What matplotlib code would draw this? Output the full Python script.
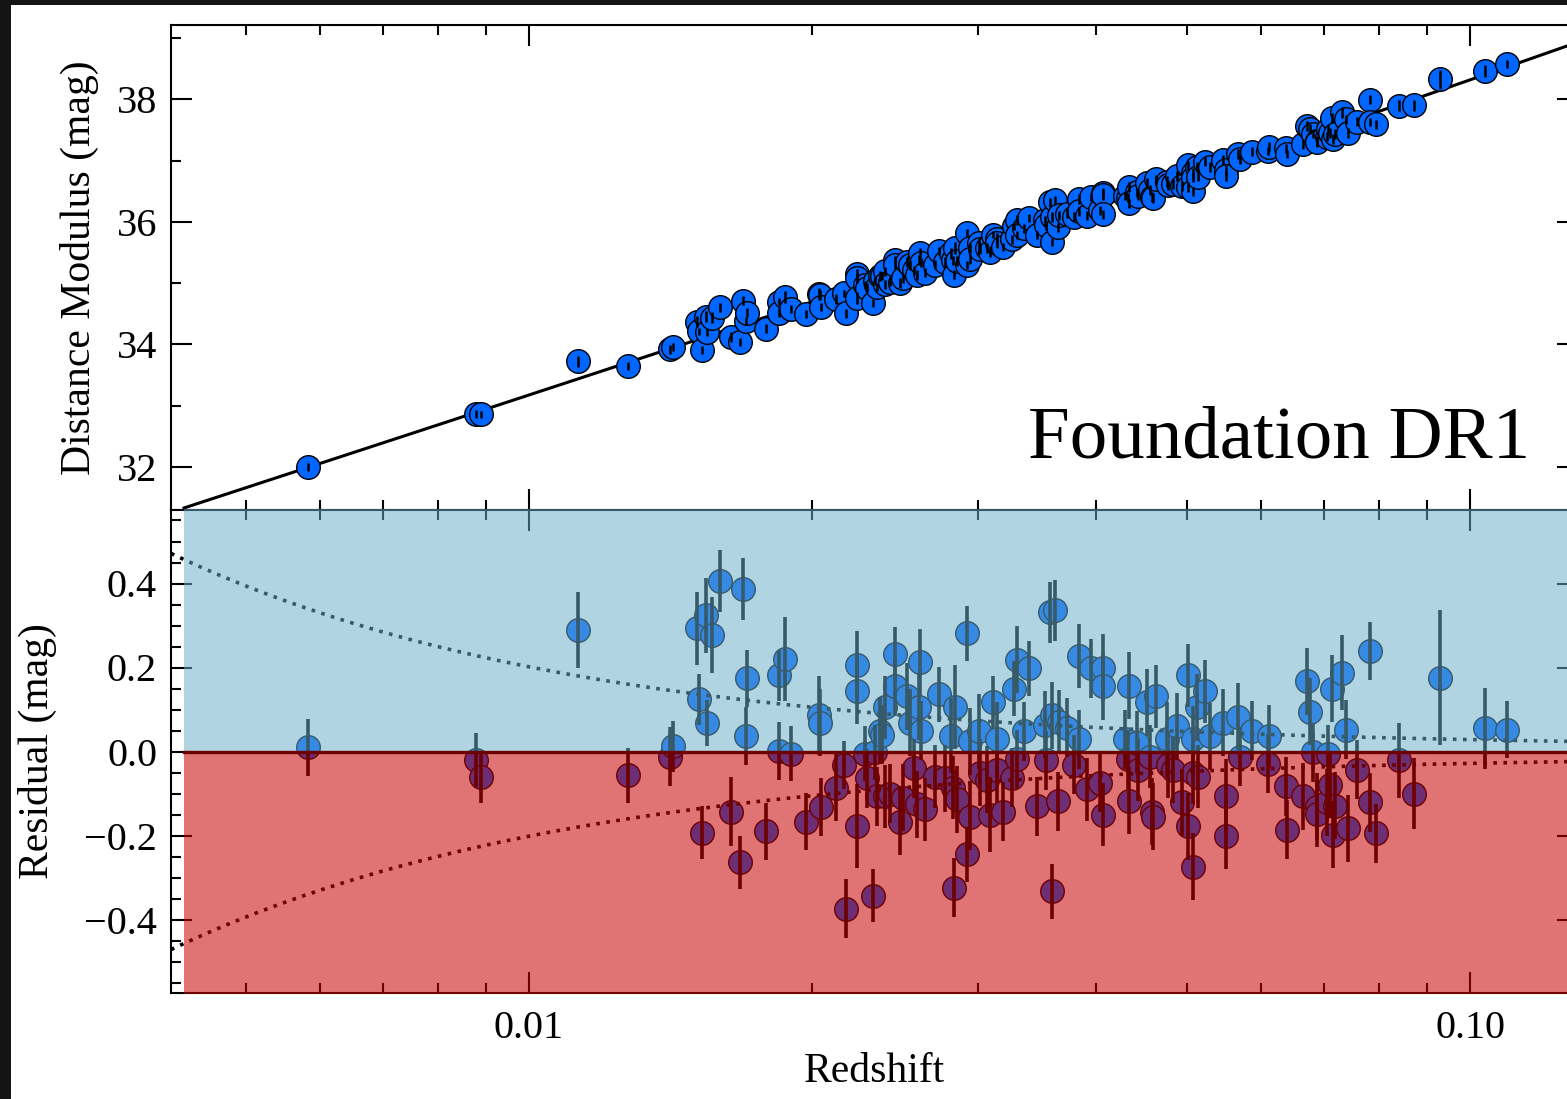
import numpy as np
import matplotlib
matplotlib.use("Agg")
import matplotlib.pyplot as plt
from matplotlib.patches import Rectangle
from matplotlib.ticker import (FixedLocator, LogLocator, MultipleLocator,
                               FuncFormatter, NullFormatter)

plt.rcParams['font.family'] = ['Liberation Serif', 'DejaVu Serif']

# --- data: redshift, Hubble residual (mag), error (mag)
z = [0.00582, 0.00878, 0.00889, 0.01127, 0.01274, 0.01412, 0.01423, 0.01509,
     0.01516, 0.01527, 0.01542, 0.01546, 0.01565, 0.01596, 0.01639, 0.01676,
     0.01688, 0.01701, 0.01705, 0.01786, 0.01844, 0.01844, 0.01871, 0.01899,
     0.01969, 0.02033, 0.02038, 0.02043, 0.02119, 0.02161, 0.02172, 0.02231,
     0.02231, 0.02231, 0.02275, 0.02286, 0.02320, 0.02332, 0.02343, 0.02360,
     0.02372, 0.02389, 0.02389, 0.02419, 0.02449, 0.02449, 0.02479, 0.02497,
     0.02522, 0.02540, 0.02565, 0.02584, 0.02597, 0.02603, 0.02609, 0.02635,
     0.02700, 0.02727, 0.02767, 0.02808, 0.02822, 0.02829, 0.02836, 0.02850,
     0.02920, 0.02920, 0.02942, 0.02942, 0.03007, 0.03014, 0.03067, 0.03089,
     0.03112, 0.03143, 0.03143, 0.03189, 0.03260, 0.03276, 0.03300, 0.03300,
     0.03357, 0.03399, 0.03466, 0.03534, 0.03543, 0.03578, 0.03595, 0.03595,
     0.03622, 0.03649, 0.03657, 0.03730, 0.03794, 0.03841, 0.03841, 0.03917,
     0.03956, 0.04044, 0.04073, 0.04073, 0.04073, 0.04299, 0.04331, 0.04341,
     0.04341, 0.04427, 0.04438, 0.04537, 0.04570, 0.04593, 0.04604, 0.04638,
     0.04764, 0.04776, 0.04835, 0.04882, 0.04943, 0.05016, 0.05016, 0.05077,
     0.05077, 0.05077, 0.05127, 0.05140, 0.05229, 0.05293, 0.05464, 0.05504,
     0.05504, 0.05668, 0.05696, 0.05866, 0.06100, 0.06115, 0.06375, 0.06390,
     0.06645, 0.06711, 0.06760, 0.06810, 0.06877, 0.06877, 0.07047, 0.07065,
     0.07099, 0.07134, 0.07152, 0.07187, 0.07311, 0.07383, 0.07419, 0.07584,
     0.07830, 0.07830, 0.07945, 0.08406, 0.08720, 0.09292, 0.10374, 0.10948]

resid = [0.010, -0.020, -0.060, 0.290, -0.057, -0.012, 0.012, 0.293,
         0.124, -0.193, 0.324, 0.067, 0.278, 0.405, -0.143, -0.264,
         0.386, 0.038, 0.174, -0.190, 0.181, 0.002, 0.221, -0.005,
         -0.167, 0.086, 0.069, -0.131, -0.086, -0.033, -0.374, 0.207,
         0.145, -0.178, -0.005, -0.064, -0.343, -0.002, -0.107, 0.050,
         0.040, 0.105, -0.107, -0.100, 0.231, 0.155, -0.167, -0.110,
         0.131, 0.069, -0.040, -0.126, 0.107, 0.212, 0.050, -0.138,
         -0.060, 0.136, -0.064, 0.038, -0.086, -0.324, 0.105, -0.114,
         0.281, -0.245, 0.024, -0.155, 0.048, -0.050, -0.067, -0.150,
         0.117, 0.029, -0.043, -0.143, -0.062, 0.150, 0.219, -0.019,
         0.048, 0.198, -0.130, 0.064, -0.021, 0.331, 0.086, -0.333,
         0.336, -0.119, 0.071, 0.057, -0.031, 0.227, 0.029, -0.090,
         0.198, -0.074, 0.200, 0.155, -0.150, 0.029, -0.019, 0.157,
         -0.117, 0.021, -0.043, 0.117, -0.012, -0.143, -0.155, 0.131,
         0.029, -0.031, -0.043, 0.060, -0.121, 0.181, -0.178, 0.029,
         -0.050, -0.274, 0.105, -0.060, 0.143, 0.036, 0.069, -0.107,
         -0.200, 0.083, -0.012, 0.050, -0.029, 0.036, -0.083, -0.186,
         -0.107, 0.167, 0.095, -0.002, -0.131, -0.148, -0.121, -0.007,
         -0.079, 0.150, -0.198, -0.129, 0.188, 0.052, -0.183, -0.043,
         0.240, -0.121, -0.195, -0.021, -0.100, 0.176, 0.055, 0.052]

err = [0.068, 0.064, 0.062, 0.090, 0.066, 0.070, 0.060, 0.087,
       0.060, 0.064, 0.090, 0.055, 0.090, 0.074, 0.083, 0.063,
       0.074, 0.069, 0.067, 0.068, 0.060, 0.069, 0.100, 0.066,
       0.068, 0.094, 0.080, 0.069, 0.079, 0.057, 0.071, 0.080,
       0.080, 0.100, 0.065, 0.070, 0.063, 0.065, 0.070, 0.080,
       0.070, 0.075, 0.075, 0.070, 0.066, 0.070, 0.080, 0.080,
       0.080, 0.080, 0.070, 0.080, 0.080, 0.080, 0.070, 0.075,
       0.075, 0.065, 0.080, 0.090, 0.075, 0.070, 0.100, 0.080,
       0.065, 0.065, 0.080, 0.080, 0.090, 0.080, 0.080, 0.090,
       0.063, 0.090, 0.080, 0.070, 0.070, 0.065, 0.080, 0.070,
       0.070, 0.065, 0.070, 0.080, 0.070, 0.073, 0.080, 0.065,
       0.073, 0.070, 0.075, 0.070, 0.070, 0.076, 0.070, 0.075,
       0.070, 0.070, 0.080, 0.080, 0.075, 0.070, 0.070, 0.080,
       0.080, 0.075, 0.075, 0.080, 0.075, 0.080, 0.080, 0.075,
       0.090, 0.080, 0.080, 0.080, 0.080, 0.075, 0.080, 0.080,
       0.075, 0.080, 0.080, 0.075, 0.075, 0.080, 0.080, 0.090,
       0.080, 0.080, 0.070, 0.070, 0.070, 0.075, 0.070, 0.070,
       0.080, 0.080, 0.080, 0.070, 0.080, 0.080, 0.080, 0.070,
       0.080, 0.080, 0.080, 0.080, 0.090, 0.070, 0.080, 0.070,
       0.069, 0.070, 0.070, 0.090, 0.085, 0.160, 0.096, 0.068]

z = np.array(z)
resid = np.array(resid)
err = np.array(err)

# cosmology for the Hubble line
H0 = 70.0
OM = 0.3
C_KMS = 299792.458
PEC_VEL = 266.0       # km/s, dotted envelope
ENV_FLOOR = 0.009

XMIN, XMAX = 0.004165, 0.1302
SHADE_ZMIN = 0.0043
YLIM_R = 0.575


def dist_mod(zv):
    zz = np.linspace(0, zv.max(), 5000)
    inv_e = 1.0 / np.sqrt(OM * (1 + zz) ** 3 + 1 - OM)
    dc = np.concatenate([[0], np.cumsum(0.5 * (inv_e[1:] + inv_e[:-1]) * np.diff(zz))])
    dl = (1 + zv) * np.interp(zv, zz, dc) * C_KMS / H0
    return 5 * np.log10(dl) + 25


mu = dist_mod(z) + resid

W, H = 1567, 1099
fig = plt.figure(figsize=(W / 100, H / 100), dpi=100)
fig.patch.set_facecolor('white')

ax1 = fig.add_axes([171 / W, 1 - 510 / H, (1578 - 171) / W, (510 - 25) / H])
ax2 = fig.add_axes([171 / W, 1 - 993 / H, (1578 - 171) / W, (993 - 510) / H])

BLUE = '#0066ff'

# top panel: Hubble diagram
zline = np.logspace(np.log10(SHADE_ZMIN), np.log10(XMAX), 300)
ax1.plot(zline, dist_mod(zline), color='black', lw=2.2, zorder=1)
ax1.plot(z, mu, 'o', ms=17, mfc=BLUE, mec='black', mew=1.0, zorder=2)
ax1.errorbar(z, mu, yerr=err, fmt='none', ecolor='black', elinewidth=1.8,
             capsize=0, zorder=3)
ax1.set_ylim(31.30, 39.21)
ax1.yaxis.set_major_locator(MultipleLocator(2))
ax1.yaxis.set_minor_locator(MultipleLocator(1))
ax1.set_ylabel('Distance Modulus (mag)', fontsize=30)
ax1.yaxis.set_label_coords(-0.051, 0.5)

# bottom panel: residuals
ax2.plot(z, resid, 'o', ms=17, mfc=BLUE, mec='black', mew=1.0, zorder=2)
ax2.errorbar(z, resid, yerr=err, fmt='none', ecolor='black', elinewidth=2.6,
             capsize=0, zorder=3)
zenv = np.logspace(np.log10(XMIN), np.log10(XMAX), 300)
env = 5 / np.log(10) * PEC_VEL / (C_KMS * zenv) + ENV_FLOOR
ax2.plot(zenv, env, color='black', lw=2.6, ls=(0, (1, 1.8)), zorder=2)
ax2.plot(zenv, -env, color='black', lw=2.6, ls=(0, (1, 1.8)), zorder=2)

ax2.add_patch(Rectangle((SHADE_ZMIN, 0), 1.0, YLIM_R + 0.003,
                        facecolor=(106 / 255, 173 / 255, 202 / 255), alpha=0.52,
                        edgecolor='none', zorder=4, clip_on=False))
ax2.add_patch(Rectangle((SHADE_ZMIN, -YLIM_R - 0.003), 1.0, YLIM_R + 0.003,
                        facecolor=(200 / 255, 0, 0), alpha=0.55,
                        edgecolor='none', zorder=4, clip_on=False))
ax2.plot([SHADE_ZMIN, XMAX], [0, 0], color='#6e0000', lw=2.4, zorder=5)

ax2.set_ylim(-YLIM_R, YLIM_R)
ax2.yaxis.set_major_locator(FixedLocator([-0.4, -0.2, 0.0, 0.2, 0.4]))
ax2.yaxis.set_minor_locator(MultipleLocator(0.05))
ax2.yaxis.set_major_formatter(
    FuncFormatter(lambda v, p: ('%.1f' % (0.0 if abs(v) < 1e-9 else v)).replace('-', '\u2212')))
ax2.set_ylabel('Residual (mag)', fontsize=30)
ax2.yaxis.set_label_coords(-0.081, 0.5)
ax2.set_xlabel('Redshift', fontsize=30)
ax2.xaxis.set_label_coords(0.5, -0.124)

for ax in (ax1, ax2):
    ax.set_xscale('log')
    ax.set_xlim(XMIN, XMAX)
    ax.xaxis.set_major_locator(FixedLocator([0.01, 0.1]))
    ax.xaxis.set_minor_locator(LogLocator(base=10, subs=np.arange(2, 10), numticks=20))
    ax.xaxis.set_minor_formatter(NullFormatter())
    ax.xaxis.set_major_formatter(FuncFormatter(lambda v, p: '%.2f' % v))
    ax.tick_params(which='both', direction='in', top=True, right=True,
                   width=1.5, colors='black')
    ax.tick_params(which='major', length=15, labelsize=29, pad=10)
    ax.tick_params(axis='x', which='major', pad=12)
    ax.tick_params(which='minor', length=7)
    for s in ax.spines.values():
        s.set_linewidth(1.5)

ax1.tick_params(labelbottom=False)

fig.text(1530 / W, 1 - 457 / H, 'Foundation DR1', fontsize=54,
         ha='right', va='baseline')

# dark slide border visible on the left and top edges
fig.add_artist(Rectangle((0, 0), 11 / W, 1, transform=fig.transFigure,
                         facecolor='#141414', edgecolor='none', zorder=10))
fig.add_artist(Rectangle((0, 1 - 5 / H), 1, 5 / H, transform=fig.transFigure,
                         facecolor='#141414', edgecolor='none', zorder=10))

fig.savefig('out.png', dpi=100)
